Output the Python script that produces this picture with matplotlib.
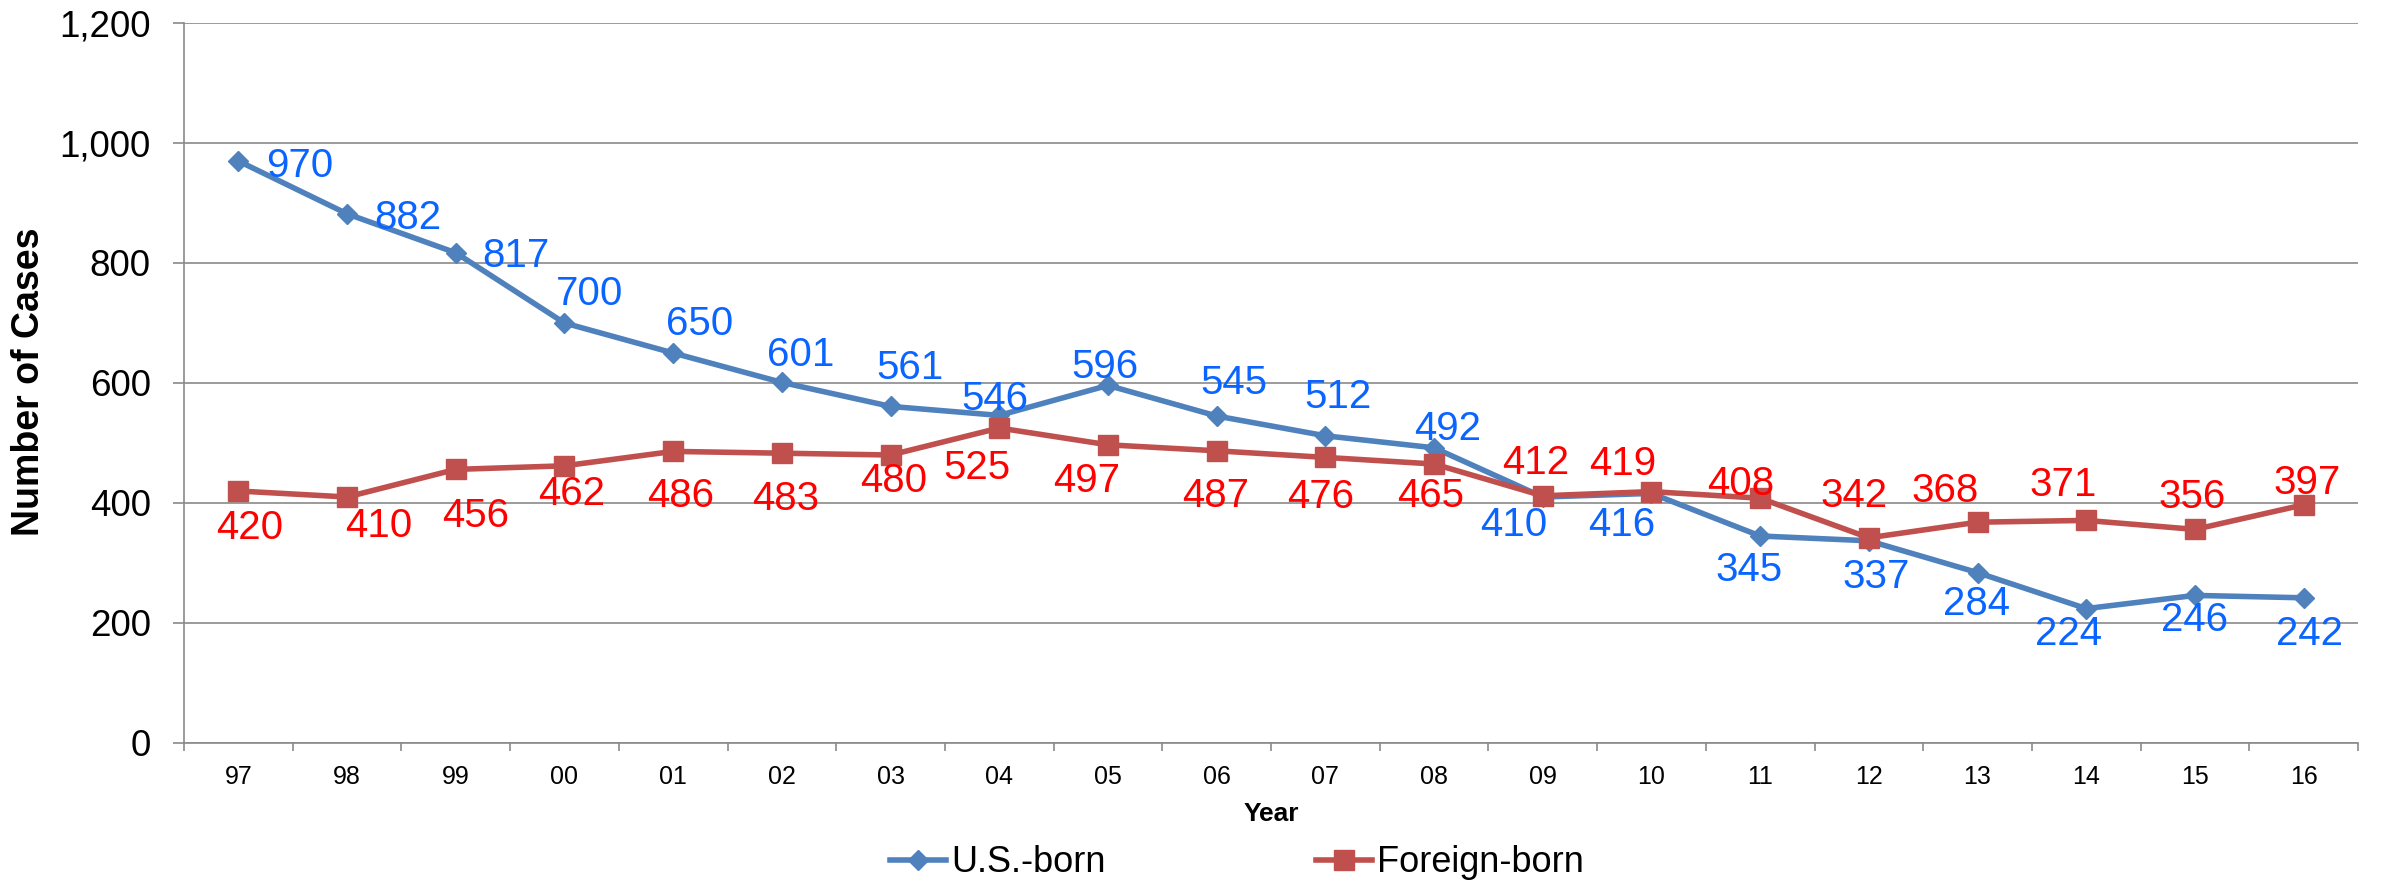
import matplotlib
matplotlib.use("Agg")
import matplotlib.pyplot as plt
from matplotlib.ticker import FixedLocator, NullFormatter

years = ['97', '98', '99', '00', '01', '02', '03', '04', '05', '06',
         '07', '08', '09', '10', '11', '12', '13', '14', '15', '16']
us_born = [970, 882, 817, 700, 650, 601, 561, 546, 596, 545,
           512, 492, 410, 416, 345, 337, 284, 224, 246, 242]
foreign_born = [420, 410, 456, 462, 486, 483, 480, 525, 497, 487,
                476, 465, 412, 419, 408, 342, 368, 371, 356, 397]
y_ticks = [0, 200, 400, 600, 800, 1000, 1200]
y_tick_labels = ['0', '200', '400', '600', '800', '1,000', '1,200']

# label offsets in pixels (dx right, dy down) relative to each point
us_offsets = [(61, 2), (61, 1), (60, 0), (25, -32), (26, -32), (19, -31), (19, -42),
              (-4, -20), (-3, -22), (17, -36), (13, -42), (14, -22), (-29, 25),
              (-30, 28), (-11, 31), (7, 33), (-1, 28), (-18, 22), (0, 21), (6, 33)]
fb_offsets = [(11, 34), (32, 26), (20, 43), (7, 25), (7, 41), (4, 42), (3, 23),
              (-22, 37), (-21, 33), (-1, 42), (-5, 36), (-3, 29), (-7, -36),
              (-29, -31), (-19, -18), (-15, -45), (-32, -35), (-23, -39), (-3, -36), (3, -25)]

plt.rcParams['font.family'] = ['Liberation Sans', 'DejaVu Sans']

W, H = 2382, 883
fig = plt.figure(figsize=(W / 100, H / 100), dpi=100)
left, right, top, bottom = 184, 2358, 23, 743
ax = fig.add_axes([left / W, 1 - bottom / H, (right - left) / W, (bottom - top) / H])

grid_c = '#8a8a8a'
blue_line = '#4F81BD'
red_line = '#C0504D'
blue_txt = '#0A64FF'
red_txt = '#FF0000'

x = list(range(len(years)))
ax.plot(x, us_born, color=blue_line, lw=4.0, marker='D', ms=10.5, zorder=3,
        label='U.S.-born')
ax.plot(x, foreign_born, color=red_line, lw=4.0, marker='s', ms=14.5, zorder=4,
        label='Foreign-born')

px = 0.72  # points per pixel
fs_lab = 29
base_shift = 0.358 * fs_lab
for xi, v, (dx, dy) in zip(x, us_born, us_offsets):
    ax.annotate(str(v), (xi, v), xytext=(dx * px, -dy * px - base_shift),
                textcoords='offset points', ha='center', va='baseline',
                fontsize=fs_lab, color=blue_txt, zorder=5)
for xi, v, (dx, dy) in zip(x, foreign_born, fb_offsets):
    ax.annotate(str(v), (xi, v), xytext=(dx * px, -dy * px - base_shift),
                textcoords='offset points', ha='center', va='baseline',
                fontsize=fs_lab, color=red_txt, zorder=5)

ax.set_xlim(-0.5, len(years) - 0.5)
ax.set_ylim(0, 1200)
ax.set_yticks(y_ticks)
ax.set_yticklabels(y_tick_labels)
ax.set_xticks(x)
ax.set_xticklabels(years)
ax.xaxis.set_minor_locator(FixedLocator([i - 0.5 for i in range(len(years) + 1)]))
ax.xaxis.set_minor_formatter(NullFormatter())

ax.grid(axis='y', color=grid_c, lw=1.2, zorder=0)
ax.set_axisbelow(True)
for s in ['top', 'right']:
    ax.spines[s].set_visible(False)
for s in ['left', 'bottom']:
    ax.spines[s].set_color(grid_c)
    ax.spines[s].set_linewidth(1.2)

ax.tick_params(axis='y', which='major', length=8, width=1.2, color=grid_c,
               labelsize=26.5, pad=16)
ax.tick_params(axis='x', which='major', length=0, labelsize=18, pad=16)
ax.tick_params(axis='x', which='minor', length=6, width=1.2, color=grid_c)

ax.set_xlabel('Year', fontsize=19, fontweight='bold', labelpad=9)
fig.text(29 / W, 1 - 382 / H, 'Number of Cases', rotation=90, ha='center',
         va='center', fontsize=27, fontweight='bold')

fig.legend(loc='center', bbox_to_anchor=(1237 / W, 1 - 863 / H), ncol=2,
           frameon=False, fontsize=26, handlelength=1.55, handletextpad=0.15,
           columnspacing=5.8, borderpad=0, borderaxespad=0)

fig.savefig('out.png', dpi=100)
